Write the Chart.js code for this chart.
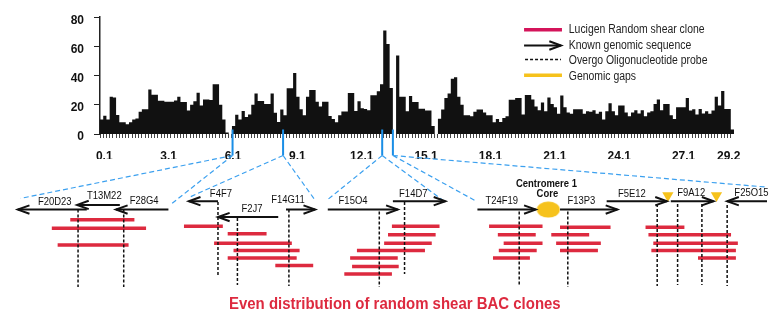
<!DOCTYPE html>
<html>
<head>
<meta charset="utf-8">
<script src="https://cdn.jsdelivr.net/npm/chart.js@4.4.1/dist/chart.umd.min.js"></script>
<style>
  body { margin:0; background:#fff; }
  #wrap { position:relative; width:778px; height:325px; }
  canvas { position:absolute; left:0; top:0; }
</style>
</head>
<body>
<div id="wrap">
  <canvas id="bars" width="778" height="325"></canvas>
  <canvas id="map" width="778" height="325"></canvas>
</div>
<script>
// clone density along chromosome 1, one value per 0.15 Mb bin
var binStart = -0.1;
var binWidth = 0.15;
var cloneDensity = [
  10,12.5,10,25.5,25,13,8,8,6.7,8,
  10,10.7,15.2,17,17,30.4,26.8,26.8,22.8,22.8,
  22.1,22.1,22.1,23,25.5,22,22,16.1,20,22.4,
  28.2,19.5,23.7,23.7,23.3,34,34,20,10,1,
  0,5.4,13.2,10,15.7,11.7,13.4,20,27.7,22.6,
  22.6,20.6,20.6,27.7,14.5,8.3,16.7,12.8,31.3,31.3,
  41.8,25.5,17,12.8,25.5,30.2,30.2,22.1,18.8,22.1,
  22.1,12.3,10.3,8.1,12.8,15.4,15.4,28,28,15.7,
  22.4,17.6,17.2,16.3,26.6,26.6,29.3,34,70.9,61.7,
  31.5,0,53.7,25.5,25.5,15.6,26,22,22,17.3,
  17.3,16.1,16.1,5.4,0,10.5,16.8,24.6,27.7,37.8,
  38.9,25.5,20,12.8,12.8,12.1,15.2,16.8,16.8,14.8,
  12.8,12.8,8,10.3,8.3,11,12.1,23.5,23.5,24.6,
  24.6,13.4,26.7,26.7,23.7,18.8,16.3,21.5,15.6,25,
  20.6,18.3,13.8,26.4,18.3,14.8,13.8,17,17,17,
  13.8,15.6,15.2,16.3,13.8,15.2,9.9,15.6,21,15.6,
  12.8,19.5,19.5,14.8,12.1,14.8,16.3,14,16.3,12.1,
  14.8,15.6,20.6,23.7,16.3,20.6,20.6,12.8,10.3,18.3,
  18.3,18.3,24.6,16.1,17,13.4,17.2,14,15.6,13.8,
  16.1,25.5,19.5,29.5,17.2,17.2,3
];
var mbTicks = [0.1, 3.1, 6.1, 9.1, 12.1, 15.1, 18.1, 21.1, 24.1, 27.1, 29.2];
var countTicks = [0, 20, 40, 60, 80];

// detail map below the histogram (drawn on a 778 x 325 grid)
var markerX = [228, 280, 382, 393];
var fanLines = [
  [228,155,10,201], [228,155,165,207], [280,155,183,200], [280,155,313,203],
  [382,155,325,203], [382,155,447,205], [393,155,477,203], [393,155,790,190]
];
var arrowNames = ['F20D23','T13M22','F28G4','F4F7','F2J7','F14G11','F15O4','F14D7',
                  'T24F19','F13P3','F5E12','F9A12','F25O15'];
var arrowSpans = [
  [7,78,213,-1], [68,112,208,-1], [108,162,213,-1], [183,213,204,-1], [213,275,221,-1],
  [283,313,213,1], [326,398,213,1], [393,447,204,1], [480,540,213,1], [565,624,213,1],
  [613,675,204,1], [679,723,204,1], [737,790,204,-1]
];
var arrowLabelAt = [
  [45,205], [96,198], [137,204], [216,196], [248,212], [285,203], [352,204], [414,196],
  [505,204], [587,204], [639,196], [700,195], [762,195]
];
var shearClones = [
  [61,127,224],[42,139,233],[48,121,251],
  [178,218,231],[223,263,239],[209,289,249],[229,297,257],[223,294,265],[272,311,273],
  [392,441,231],[388,437,240],[384,433,249],[356,426,257],[349,398,265],[351,399,274],[343,392,282],
  [492,547,231],[501,540,240],[507,547,249],[502,541,257],[496,534,265],
  [565,617,232],[556,595,240],[561,607,249],[565,604,257],
  [653,693,232],[656,741,240],[661,748,249],[659,746,257],[707,746,265]
];
var probes = [
  [69,213,296],[116,213,296],
  [213,205,285],[233,222,294],[286,213,295],
  [379,215,296],[405,205,282],
  [523,215,295],[573,215,296],[665,207,295],[686,207,294],[711,207,294],[737,208,295]
];
var gaps = [[676,198],[726,198]];
var centromere = [[553,213]];
var legendLabels = ['Lucigen Random shear clone','Known genomic sequence','Overgo Oligonucleotide probe','Genomic gaps'];
var legendRows = [20, 37, 53, 70];

var xMax = binStart + binWidth * cloneDensity.length;
// bin centres, plus the two outer edges so the first and last bins are full width
var histPoints = [{ x: binStart, y: cloneDensity[0] }].concat(
  cloneDensity.map(function(v, i){ return { x: binStart + binWidth * (i + 0.5), y: v }; }),
  [{ x: xMax, y: cloneDensity[cloneDensity.length - 1] }]
);
var binEdges = cloneDensity.map(function(v, i){ return binStart + binWidth * i; });

new Chart(document.getElementById('bars'), {
  type: 'line',
  data: { datasets: [{
    data: histPoints, stepped: 'middle', fill: 'origin',
    backgroundColor: '#111', borderColor: '#111', borderWidth: 0, pointRadius: 0
  }]},
  options: {
    animation: false, responsive: false, events: [],
    layout: { padding: { left: 60, right: 44, top: 15, bottom: 166 } },
    plugins: { legend: { display: false }, tooltip: { enabled: false } },
    scales: {
      x: {
        type: 'linear', min: binStart, max: xMax, offset: false, weight: 0,
        afterBuildTicks: function(s){ s.ticks = binEdges.map(function(v){ return { value: v }; }); },
        ticks: { display: false },
        grid: { drawOnChartArea: false, tickLength: 4, color: '#444' },
        border: { display: false },
        afterFit: function(s){ s.height = 5; }
      },
      x2: {
        type: 'linear', axis: 'x', position: 'bottom', min: binStart, max: xMax, offset: false, weight: 1,
        afterBuildTicks: function(s){ s.ticks = mbTicks.map(function(v){ return { value: v }; }); },
        ticks: { color: '#111', padding: 2, font: { family: 'Liberation Sans', size: 12, weight: 'bold' },
                 callback: function(v){ return v.toFixed(1); } },
        grid: { display: false },
        border: { display: false },
        afterFit: function(s){ s.height = 20; }
      },
      y: {
        min: 0, max: 80,
        afterBuildTicks: function(s){ s.ticks = countTicks.map(function(v){ return { value: v }; }); },
        ticks: { color: '#111', padding: 10, labelOffset: 3, font: { family: 'Liberation Sans', size: 12, weight: 'bold' } },
        grid: { drawOnChartArea: false, tickLength: 6, color: '#222' },
        border: { color: '#222', width: 1.5 },
        afterFit: function(s){ s.width = 40; }
      }
    }
  }
});

// helpers turning segment lists into broken polylines
function segs(list){
  var out = [];
  list.forEach(function(s){
    out.push({x: s[0], y: s[1]}, {x: s[2], y: s[3]}, {x: s[2], y: null});
  });
  return out;
}
function shafts(spans){
  return segs(spans.map(function(a){ return [a[0], a[2], a[1], a[2]]; }));
}
function heads(spans){
  var out = [];
  spans.forEach(function(a){
    var hx = a[3] > 0 ? a[1] : a[0];
    out.push({x: hx - a[3]*12, y: a[2]-4.5}, {x: hx, y: a[2]}, {x: hx - a[3]*12, y: a[2]+4.5}, {x: hx, y: null});
  });
  return out;
}
var legendArrow = [[528,566,37,1]];

var ell = document.createElement('canvas');
ell.width = 24; ell.height = 17;
var ec = ell.getContext('2d');
ec.fillStyle = '#f6c21c';
ec.beginPath(); ec.ellipse(12, 8.5, 11.5, 8, 0, 0, Math.PI*2); ec.fill();

var mapText = {
  id: 'mapText',
  afterDraw: function(chart){
    var ctx = chart.ctx, sx = chart.scales.x, sy = chart.scales.y;
    // no condensed face installed, so squeeze the text horizontally
    function put(t, x, y, font, color, squeeze, align){
      ctx.save();
      ctx.font = font; ctx.fillStyle = color;
      ctx.textAlign = align || 'center'; ctx.textBaseline = 'middle';
      ctx.translate(sx.getPixelForValue(x), sy.getPixelForValue(y));
      ctx.scale(squeeze, 1);
      ctx.fillText(t, 0, 0);
      ctx.restore();
    }
    arrowNames.forEach(function(n, i){
      put(n, arrowLabelAt[i][0], arrowLabelAt[i][1], '11px "Liberation Sans"', '#111', 0.86);
    });
    legendLabels.forEach(function(t, i){
      put(t, 574, legendRows[i], '12px "Liberation Sans"', '#222', 0.87, 'left');
    });
    put('Centromere 1', 551, 185, 'bold 11px "Liberation Sans"', '#111', 0.86);
    put('Core', 552, 196, 'bold 11px "Liberation Sans"', '#111', 0.86);
    put('Even distribution of random shear BAC clones', 395, 315, 'bold 17px "Liberation Sans"', '#dd2a3f', 0.88);
  }
};

var lineDs = function(data, color, width, dash){
  return { data: data, showLine: true, borderColor: color, borderWidth: width, borderDash: dash || [],
           pointRadius: 0, borderCapStyle: 'butt', spanGaps: false, tension: 0 };
};

new Chart(document.getElementById('map'), {
  type: 'scatter',
  data: { datasets: [
    lineDs(shafts(arrowSpans.concat(legendArrow)), '#111', 2),
    lineDs(heads(arrowSpans.concat(legendArrow)), '#111', 2),
    { data: centromere.map(function(p){ return {x: p[0], y: p[1]}; }), pointStyle: ell, pointRadius: 10 },
    { data: gaps.map(function(p){ return {x: p[0], y: p[1]}; }), pointStyle: 'triangle', rotation: 180,
      pointRadius: 6.5, backgroundColor: '#f6c21c', borderWidth: 0 },
    lineDs(segs(probes.map(function(p){ return [p[0], p[1], p[0], p[2]]; })), '#111', 1.5, [3, 2]),
    lineDs(segs([[529,52,566,52]]), '#111', 1.5, [3, 2]),
    lineDs(segs(shearClones.map(function(c){ return [c[0], c[2], c[1], c[2]]; })), '#dd2a3f', 3.5),
    lineDs(segs([[528,20,567,20]]), '#d4145a', 3.5),
    lineDs(segs([[528,69,567,69]]), '#f6c21c', 3.5),
    lineDs(segs(fanLines), '#3ba0ef', 1.2, [5, 3]),
    lineDs(segs(markerX.map(function(x){ return [x, 127, x, 155]; })), '#1a8ee6', 2)
  ]},
  options: {
    animation: false, responsive: false, events: [],
    layout: { padding: 0 },
    plugins: { legend: { display: false }, tooltip: { enabled: false } },
    scales: {
      x: { type: 'linear', display: false, min: 0, max: 778, offset: false },
      y: { type: 'linear', display: false, min: 0, max: 325, reverse: true }
    }
  },
  plugins: [mapText]
});
</script>
</body>
</html>
